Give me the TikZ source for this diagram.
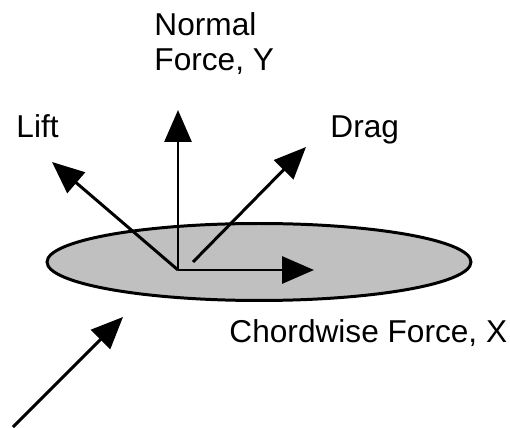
\documentclass[tikz,border=0pt]{standalone}
\usepackage{fontspec}
\setmainfont{Liberation Sans}
\usepackage{xcolor}
\usepackage{tikz}
\usetikzlibrary{arrows.meta}
\definecolor{wing}{RGB}{192,192,192}

\begin{document}
\begin{tikzpicture}[x=0.02cm, y=-0.02cm, line width=1.7pt,
  every node/.style={font=\fontsize{18}{20}\selectfont, inner sep=0pt},
  force/.style={-{Triangle[length=0.64cm, width=0.54cm]}}]
\useasboundingbox (0,0) rectangle (510,428);
\fill[wing, draw=black] (259,262) ellipse [x radius=4.24cm, y radius=0.77cm];
% force components from the reference point
\coordinate (o) at (178,270);
\coordinate (normaltip) at (178,110);
\coordinate (lifttip) at (52,162);
\coordinate (dragfoot) at (193,262);
\coordinate (dragtip) at (306,147);
\coordinate (chordtip) at (314,270);
\draw[force] (o) -- (normaltip);
\draw[force] (o) -- (lifttip);
\draw[force] (dragfoot) -- (dragtip);
\draw[force] (o) -- (chordtip);
% free stream
\coordinate (windfoot) at (13,427);
\coordinate (windtip) at (123,317);
\draw[force] (windfoot) -- (windtip);
% labels
\node[anchor=base west, align=left] (normal) at (153,71) {Normal\\Force, Y};
\node[anchor=base west] (lift) at (15,138) {Lift};
\node[anchor=base west] (drag) at (329,138) {Drag};
\node[anchor=base west] (chord) at (228,343) {Chordwise Force, X};
\end{tikzpicture}
\end{document}
